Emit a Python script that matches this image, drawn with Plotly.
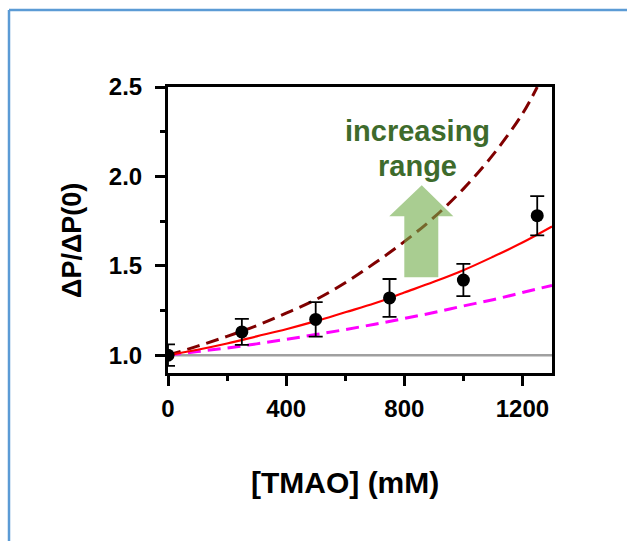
import plotly.graph_objects as go

# ---- data ----
tmao = [0, 250, 500, 750, 1000, 1250]
ratio = [1.00, 1.13, 1.20, 1.32, 1.42, 1.78]
ratio_err = [0.06, 0.073, 0.096, 0.106, 0.09, 0.11]

fit_x = [0, 100, 200, 300, 400, 500, 600, 700, 800, 900, 1000, 1100, 1200, 1300]
fit_red = [1.00, 1.03, 1.065, 1.105, 1.145, 1.19, 1.24, 1.29, 1.35, 1.41, 1.475, 1.55, 1.63, 1.72]
fit_magenta = [1.00, 1.02, 1.04, 1.063, 1.088, 1.115, 1.143, 1.173, 1.205, 1.238, 1.275, 1.31, 1.35, 1.39]

upper_x = [0, 100, 200, 300, 400, 500, 600, 700, 800, 900, 1000, 1100, 1200, 1250]
upper_y = [1.00, 1.05, 1.105, 1.165, 1.235, 1.31, 1.405, 1.515, 1.635, 1.77, 1.93, 2.12, 2.35, 2.5]

base_x = [0, 1300]
base_y = [1.0, 1.0]

x_ticks = [0, 400, 800, 1200]
y_ticks = [1.0, 1.5, 2.0, 2.5]

FONT = "Arial, Liberation Sans, sans-serif"

fig = go.Figure()
fig.add_trace(go.Scatter(x=base_x, y=base_y, mode="lines",
                         line=dict(color="#a0a0a0", width=2.5), showlegend=False))
fig.add_trace(go.Scatter(x=fit_x, y=fit_magenta, mode="lines", line_shape="spline",
                         line=dict(color="#ff00ff", width=3, dash="13px,7px"), showlegend=False))
fig.add_trace(go.Scatter(x=upper_x, y=upper_y, mode="lines", line_shape="spline",
                         line=dict(color="#800000", width=3, dash="13px,7px"), showlegend=False))
fig.add_trace(go.Scatter(x=fit_x, y=fit_red, mode="lines", line_shape="spline",
                         line=dict(color="#ff0000", width=2.2), showlegend=False))
fig.add_trace(go.Scatter(x=tmao, y=ratio, mode="markers",
                         marker=dict(color="black", size=13),
                         error_y=dict(type="data", array=ratio_err, color="black",
                                      thickness=1.8, width=7),
                         showlegend=False))

L, R, T, B = 168, 75, 87, 168
W, H = 627, 541
pw, ph = W - L - R, H - T - B

def px(x):
    return (x - L) / pw

def py(y):
    return (H - B - y) / ph

axis_common = dict(showline=True, linecolor="black", linewidth=3, mirror=True,
                   ticks="outside", ticklen=10, tickwidth=2.5, tickcolor="black",
                   showgrid=False, zeroline=False,
                   tickfont=dict(family=FONT, size=24, color="black", weight="bold"))

fig.update_xaxes(range=[0, 1300], tickvals=x_ticks, ticklabelstandoff=2,
                 minor=dict(ticks="outside", ticklen=5, tickwidth=2.5, tickcolor="black",
                            tickvals=[200, 600, 1000], showgrid=False),
                 **axis_common)
fig.update_yaxes(range=[0.9, 2.5], tickvals=y_ticks, ticktext=["1.0", "1.5", "2.0", "2.5"],
                 ticklabelstandoff=8,
                 minor=dict(ticks="outside", ticklen=5, tickwidth=2.5, tickcolor="black",
                            tickvals=[1.25, 1.75, 2.25], showgrid=False),
                 **axis_common)

# arrow (semi-transparent)
arrow = "M 800,1.436 L 915,1.436 L 915,1.777 L 966,1.777 L 859,1.950 L 749,1.777 L 800,1.777 Z"

fig.update_layout(
    width=W, height=H,
    margin=dict(l=L, r=R, t=T, b=B),
    paper_bgcolor="white", plot_bgcolor="white",
    shapes=[
        dict(type="path", path=arrow, xref="x", yref="y", fillcolor="rgb(111,172,72)",
             opacity=0.6, line=dict(width=0), layer="above"),
        dict(type="line", xref="paper", yref="paper", x0=px(9), x1=px(640), y0=py(10), y1=py(10),
             line=dict(color="#5b9bd5", width=2.5)),
        dict(type="line", xref="paper", yref="paper", x0=px(9), x1=px(9), y0=py(10), y1=py(560),
             line=dict(color="#5b9bd5", width=2.5)),
    ],
    annotations=[
        dict(text="increasing", x=px(417), y=py(131), xref="paper", yref="paper",
             showarrow=False, xanchor="center", yanchor="middle",
             font=dict(family=FONT, size=29, color="#3e6b2c", weight="bold")),
        dict(text="range", x=px(417), y=py(166), xref="paper", yref="paper",
             showarrow=False, xanchor="center", yanchor="middle",
             font=dict(family=FONT, size=29, color="#3e6b2c", weight="bold")),
        dict(text="[TMAO] (mM)", x=px(345), y=py(482), xref="paper", yref="paper",
             showarrow=False, xanchor="center", yanchor="middle",
             font=dict(family=FONT, size=30, color="black", weight="bold")),
        dict(text="ΔP/ΔP(0)", x=px(72), y=py(241), xref="paper", yref="paper",
             showarrow=False, xanchor="center", yanchor="middle", textangle=-90,
             font=dict(family=FONT, size=27, color="black", weight="bold")),
    ],
)

fig.write_html("out.html")
